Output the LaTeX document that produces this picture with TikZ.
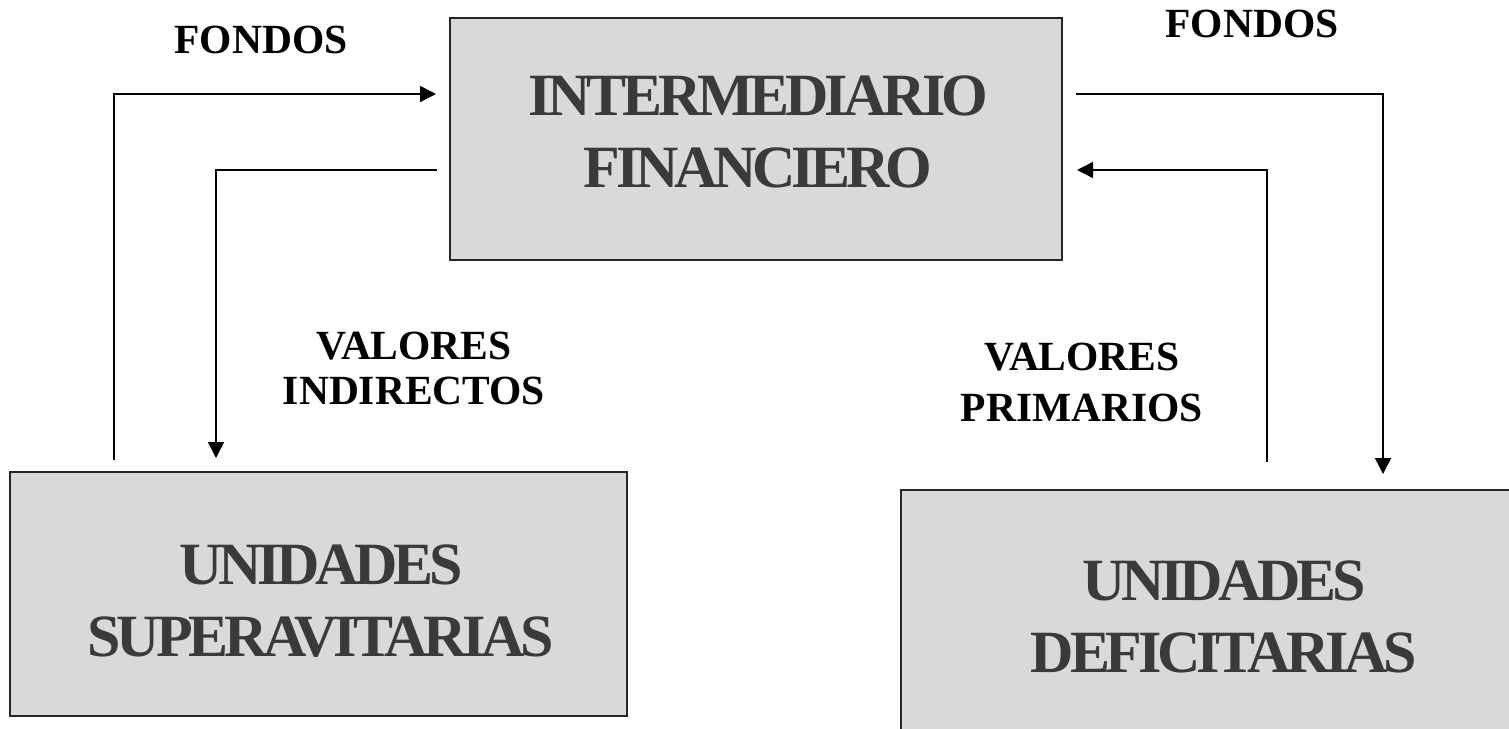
\documentclass[tikz,border=0pt]{standalone}
\usepackage{fontspec}
\setmainfont{Liberation Serif}
\newfontfamily\boxfont[LetterSpace=-7]{Liberation Serif}
\usetikzlibrary{arrows.meta,calc}
\definecolor{boxfill}{HTML}{D9D9D9}
\definecolor{boxtext}{HTML}{3A3A3A}
\tikzset{
 bigbox/.style={draw=black!85, line width=1.5pt, fill=boxfill, inner sep=0pt, outer sep=0pt},
 boxtxt/.style={inner sep=0pt, align=center, text=boxtext, font=\boxfont\bfseries\fontsize{60}{72}\selectfont},
 lbl/.style={font=\bfseries\fontsize{41.5}{46}\selectfont, align=center, inner sep=0pt},
 arr/.style={line width=1.4pt, -{Triangle[length=16pt,width=16pt]}},
}
\begin{document}
\begin{tikzpicture}[x=1pt,y=-1pt]
\clip (0,0) rectangle (1509,728);
\fill[white] (0,0) rectangle (1509,728);
\node[bigbox, minimum width=612pt, minimum height=242pt] (inter) at (756,139) {};
\node[bigbox, minimum width=617pt, minimum height=244pt] (sup) at (318.5,594) {};
\node[bigbox, minimum width=646pt, minimum height=262pt] (def) at (1224,621) {};
\node[boxtxt] (intertxt) at (758,132) {INTERMEDIARIO\\FINANCIERO};
\node[boxtxt] (suptxt) at (321,601) {UNIDADES\\SUPERAVITARIAS};
\node[boxtxt] (deftxt) at (1224,617) {UNIDADES\\DEFICITARIAS};

\node[lbl] (f1) at (261,40) {FONDOS};
\node[lbl] (f2) at (1252,24) {FONDOS};
\node[lbl, font=\bfseries\fontsize{41.5}{45}\selectfont] (vi) at (414,368) {VALORES\\INDIRECTOS};
\node[lbl, font=\bfseries\fontsize{41.5}{51}\selectfont] (vp) at (1082,382) {VALORES\\PRIMARIOS};

\coordinate (a1s) at ($(sup.north west)+(104,-12)$);
\coordinate (a1e) at ($(inter.north west)+(-14,76)$);
\coordinate (a2s) at ($(inter.north west)+(-13,152)$);
\coordinate (a2e) at ($(sup.north west)+(206,-14)$);
\coordinate (a3s) at ($(inter.north east)+(14,76)$);
\coordinate (a3e) at ($(def.north west)+(482,-16)$);
\coordinate (a4s) at ($(def.north west)+(366,-28)$);
\coordinate (a4e) at ($(inter.north east)+(15,152)$);

\draw[arr] (a1s) |- (a1e);
\draw[arr] (a2s) -| (a2e);
\draw[arr] (a3s) -| (a3e);
\draw[arr] (a4s) |- (a4e);
\end{tikzpicture}
\end{document}
